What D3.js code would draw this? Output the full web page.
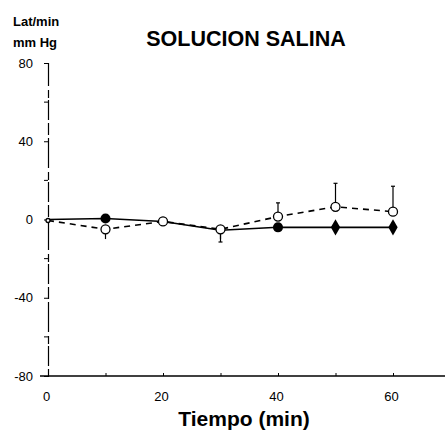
<!DOCTYPE html>
<html><head><meta charset="utf-8">
<script src="https://cdn.jsdelivr.net/npm/d3@7"></script>
<style>body{margin:0;background:#fff}svg{display:block}text{font-family:Arial,"Liberation Sans",sans-serif;fill:#000}</style>
</head><body>
<svg id="c" width="445" height="434"></svg>
<script>
const times = [0, 10, 20, 30, 40, 50, 60];
const salineFilled = [0, 0.5, -1, -5.5, -4, -4, -4];
const salineFilledErr = [0, 0, 0, 6, 2, 0, 0];
const salineOpen = [-0.5, -5, -1, -5, 1.5, 6.5, 4];
const salineOpenErrUp = [0, 0, 2, 0, 7, 12, 13];
const salineOpenErrDown = [0, 2, 0, 2, 0, 0, 0];
const filledShapes = ["circle", "circle", "circle", "circle", "circle", "diamond", "diamond"];
const yTickLabels = [80, 40, 0, -40, -80];
const yMinorTicks = [60, 20, -20, -60];
const xTickLabels = [0, 20, 40, 60];
const xTicksAll = [0, 10, 20, 30, 40, 50, 60];

const svg = d3.select("#c");
const x = d3.scaleLinear().domain([0, 60]).range([48, 393]);
const y = d3.scaleLinear().domain([-80, 80]).range([376, 63]);

// Title & labels
svg.append("text").attr("x", 246).attr("y", 46).attr("text-anchor", "middle")
  .attr("font-size", 21.5).attr("font-weight", "bold").text("SOLUCION SALINA");
svg.append("text").attr("x", 13).attr("y", 26).attr("font-size", 13).attr("font-weight", "bold").text("Lat/min");
svg.append("text").attr("x", 13).attr("y", 47).attr("font-size", 13).attr("font-weight", "bold").text("mm Hg");
svg.append("text").attr("x", 244).attr("y", 426).attr("text-anchor", "middle")
  .attr("font-size", 21).attr("font-weight", "bold").text("Tiempo (min)");

// Y axis (broken scanned look)
const yAxis = d3.axisLeft(y).tickValues(yTickLabels).tickSize(4).tickFormat(d => d);
const gy = svg.append("g").attr("transform", "translate(48,0)").call(yAxis);
gy.select(".domain").attr("stroke", "#000").attr("stroke-width", 1.2).attr("stroke-dasharray", "12,3,20,2,8,4,30,3");
gy.selectAll(".tick line").attr("stroke", "#000");
gy.selectAll(".tick text").style("font-size", "13px").attr("font-family", "Arial, sans-serif").attr("x", -15);
gy.selectAll(".minor").data(yMinorTicks).enter().append("line").attr("class", "minor")
  .attr("x1", -4).attr("x2", 0).attr("y1", d => y(d)).attr("y2", d => y(d)).attr("stroke", "#000");

// X axis
const xAxis = d3.axisBottom(x).tickValues(xTicksAll).tickSize(-3).tickFormat(d => xTickLabels.includes(d) ? d : "");
const gx = svg.append("g").attr("transform", "translate(0,376)").call(xAxis);
gx.select(".domain").remove();
svg.append("line").attr("x1", 40).attr("x2", 445).attr("y1", 376).attr("y2", 376).attr("stroke", "#000").attr("stroke-width", 1.3);
gx.selectAll(".tick line").attr("stroke", "#000");
gx.selectAll(".tick text").style("font-size", "13px").attr("font-family", "Arial, sans-serif").attr("y", 16).attr("dx", -2);

// Error bars
const eb = svg.append("g").attr("stroke", "#000").attr("stroke-width", 1.2);
times.forEach((t, i) => {
  if (salineOpenErrUp[i] > 0) {
    eb.append("line").attr("x1", x(t)).attr("x2", x(t)).attr("y1", y(salineOpen[i])).attr("y2", y(salineOpen[i] + salineOpenErrUp[i]));
    eb.append("line").attr("x1", x(t) - 2).attr("x2", x(t) + 2).attr("y1", y(salineOpen[i] + salineOpenErrUp[i])).attr("y2", y(salineOpen[i] + salineOpenErrUp[i]));
  }
  if (salineOpenErrDown[i] > 0) {
    eb.append("line").attr("x1", x(t)).attr("x2", x(t)).attr("y1", y(salineOpen[i])).attr("y2", y(salineOpen[i] - salineOpenErrDown[i] - 3));
  }
  if (salineFilledErr[i] > 0) {
    eb.append("line").attr("x1", x(t)).attr("x2", x(t)).attr("y1", y(salineFilled[i])).attr("y2", y(salineFilled[i] - salineFilledErr[i]));
    eb.append("line").attr("x1", x(t) - 2).attr("x2", x(t) + 2).attr("y1", y(salineFilled[i] - salineFilledErr[i])).attr("y2", y(salineFilled[i] - salineFilledErr[i]));
  }
});

// Lines
const line = d3.line().x((d, i) => x(times[i])).y(d => y(d));
svg.append("path").datum(salineOpen).attr("d", line).attr("fill", "none").attr("stroke", "#000")
  .attr("stroke-width", 1.6).attr("stroke-dasharray", "6,5");
svg.append("path").datum(salineFilled).attr("d", line).attr("fill", "none").attr("stroke", "#000")
  .attr("stroke-width", 1.6);

// Open markers
svg.selectAll(".om").data(salineOpen).enter().append("circle").attr("class", "om")
  .attr("cx", (d, i) => x(times[i])).attr("cy", d => y(d)).attr("r", (d, i) => i === 0 ? 2 : 4.5)
  .attr("fill", "#fff").attr("stroke", "#000").attr("stroke-width", 1.3);

// Filled markers (some hidden behind open markers in the original)
const showFilled = [false, true, false, false, true, true, true];
const filledPts = times.map((t, i) => ({t, v: salineFilled[i], shape: filledShapes[i], show: showFilled[i]}))
  .filter(p => p.show);
svg.selectAll(".fm").data(filledPts).enter()
  .append("path").attr("class", "fm")
  .attr("transform", p => `translate(${x(p.t)},${y(p.v)})`)
  .attr("d", p => p.shape === "diamond" ? d3.symbol(d3.symbolDiamond, 75)() : d3.symbol(d3.symbolCircle, 80)())
  .attr("fill", "#000");
</script>
</body></html>
